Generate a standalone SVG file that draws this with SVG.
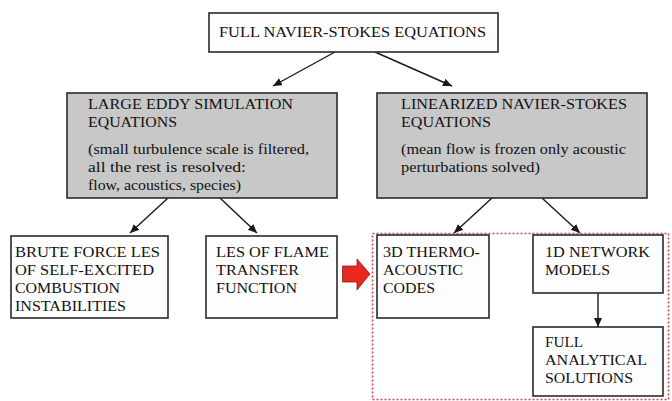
<svg xmlns="http://www.w3.org/2000/svg" width="672" height="401" viewBox="0 0 672 401">
<style>
.box{fill:#fdfdfd;stroke:#2a2a2a;stroke-width:1.6}
.gray{fill:#c8c8c8;stroke:#2a2a2a;stroke-width:1.6}
text{font-family:'Liberation Serif','DejaVu Serif',serif;font-size:15.5px;fill:#111111}
.con{stroke:#1a1a1a;stroke-width:1.4;fill:none;marker-end:url(#ah)}
</style>
<defs>
<marker id="ah" markerUnits="userSpaceOnUse" markerWidth="12" markerHeight="10" refX="9" refY="4" orient="auto">
<path d="M0,0 L9,4 L0,8 Z" fill="#1a1a1a"/>
</marker>
</defs>
<rect width="672" height="401" fill="#ffffff"/>
<rect x="372.5" y="233.5" width="296" height="166" fill="none" stroke="#d24a4a" stroke-width="1.6" stroke-dasharray="2,2"/>
<g id="connectors">
<line class="con" x1="335" y1="52" x2="273" y2="86"/>
<line class="con" x1="375" y1="52" x2="452" y2="86"/>
<line class="con" x1="168" y1="198" x2="130" y2="233"/>
<line class="con" x1="220" y1="198" x2="257" y2="233"/>
<line class="con" x1="492" y1="198" x2="454" y2="233"/>
<line class="con" x1="542" y1="198" x2="580" y2="233"/>
<line class="con" x1="598" y1="293" x2="598" y2="327"/>
</g>
<g>
<g id="full-ns">
<rect class="box" x="209" y="13" width="289" height="39"/>
<text x="219" y="37" textLength="267" lengthAdjust="spacingAndGlyphs">FULL NAVIER-STOKES EQUATIONS</text>
</g>
<g id="les-eq">
<rect class="gray" x="67" y="93" width="270" height="105"/>
<text x="88" y="109" textLength="205" lengthAdjust="spacingAndGlyphs">LARGE EDDY SIMULATION</text>
<text x="88" y="127" textLength="89" lengthAdjust="spacingAndGlyphs">EQUATIONS</text>
<text x="88" y="154" textLength="221" lengthAdjust="spacingAndGlyphs">(small turbulence scale is filtered,</text>
<text x="88" y="172" textLength="158" lengthAdjust="spacingAndGlyphs">all the rest is resolved:</text>
<text x="88" y="190" textLength="153" lengthAdjust="spacingAndGlyphs">flow, acoustics, species)</text>
</g>
<g id="lns-eq">
<rect class="gray" x="377" y="93" width="270" height="105"/>
<text x="401" y="109" textLength="226" lengthAdjust="spacingAndGlyphs">LINEARIZED NAVIER-STOKES</text>
<text x="401" y="127" textLength="90" lengthAdjust="spacingAndGlyphs">EQUATIONS</text>
<text x="401" y="154" textLength="225" lengthAdjust="spacingAndGlyphs">(mean flow is frozen only acoustic</text>
<text x="401" y="172" textLength="139" lengthAdjust="spacingAndGlyphs">perturbations solved)</text>
</g>
<g id="brute-force">
<rect class="box" x="11" y="236" width="157" height="82"/>
<text x="15" y="257" textLength="145" lengthAdjust="spacingAndGlyphs">BRUTE FORCE LES</text>
<text x="15" y="275" textLength="139" lengthAdjust="spacingAndGlyphs">OF SELF-EXCITED</text>
<text x="15" y="293" textLength="105" lengthAdjust="spacingAndGlyphs">COMBUSTION</text>
<text x="15" y="311" textLength="111" lengthAdjust="spacingAndGlyphs">INSTABILITIES</text>
</g>
<g id="les-ftf">
<rect class="box" x="206" y="236" width="131" height="82"/>
<text x="216" y="257" textLength="113" lengthAdjust="spacingAndGlyphs">LES OF FLAME</text>
<text x="216" y="275" textLength="83" lengthAdjust="spacingAndGlyphs">TRANSFER</text>
<text x="216" y="293" textLength="81" lengthAdjust="spacingAndGlyphs">FUNCTION</text>
</g>
<g id="red-arrow">
<polygon points="342.5,266 357,266 357,259 370,274 357,290 357,282 342.5,282" fill="#e8281e" stroke="#8a1a14" stroke-width="0.8"/>
</g>
<g id="thermo-3d">
<rect class="box" x="377" y="235" width="112" height="83"/>
<text x="383" y="257" textLength="97" lengthAdjust="spacingAndGlyphs">3D THERMO-</text>
<text x="383" y="275" textLength="80" lengthAdjust="spacingAndGlyphs">ACOUSTIC</text>
<text x="383" y="293" textLength="52" lengthAdjust="spacingAndGlyphs">CODES</text>
</g>
<g id="network-1d">
<rect class="box" x="533" y="235" width="130" height="58"/>
<text x="545" y="257" textLength="105" lengthAdjust="spacingAndGlyphs">1D NETWORK</text>
<text x="545" y="275" textLength="65" lengthAdjust="spacingAndGlyphs">MODELS</text>
</g>
<g id="full-analytical">
<rect class="box" x="533" y="327" width="130" height="69"/>
<text x="545" y="347" textLength="38" lengthAdjust="spacingAndGlyphs">FULL</text>
<text x="545" y="365" textLength="102" lengthAdjust="spacingAndGlyphs">ANALYTICAL</text>
<text x="545" y="383" textLength="88" lengthAdjust="spacingAndGlyphs">SOLUTIONS</text>
</g>
</g>
</svg>
